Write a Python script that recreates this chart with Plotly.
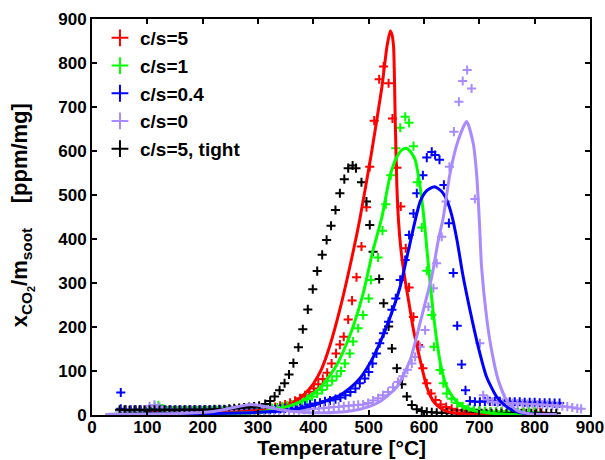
import plotly.graph_objects as go

# ---------------- data ----------------
# measured points
bk_T = [50,59,68,77,86,95,104,113,122,131,140,149,158,167,176,185,194,203,212,221,
        230,239,248,257,266,275,284,293,302,313,322,330,339,348,356,364,373,381,390,399,
        407,416,424,432,440,448,456,463,471,477,487,496,502,508,519,527,536,542,551,560,
        569,578,587,596,605,614,623,632,641,650,659,668,677,686,695,704,713,722,731,740,
        749,758,767,776,785,794,803,812,821,830,839]
bk_y = [12,12,11,12,12,11,12,12,11,12,12,11,12,12,12,12,12,12,12,13,
        13,13,14,15,16,17,18,19,21,25,32,42,56,72,92,118,154,195,240,286,
        327,364,398,430,466,504,536,561,567,561,529,485,432,371,309,254,201,151,106,70,
        42,23,13,9,7,6,5,5,5,4,4,4,4,4,4,4,4,4,4,4,
        4,4,4,4,4,4,4,4,4,4,4]

r_T = [70,79,88,97,106,115,124,133,142,151,160,169,178,187,196,205,214,223,232,241,
       250,259,268,277,286,295,304,313,322,331,340,349,358,367,376,385,393,401,409,417,
       425,433,441,448,455,463,470,478,487,496,502,510,519,527,536,543,551,558,567,573,
       581,590,598,605,613,621,630,640,650,660,670,680,690,700,710,720,730,740,750,760,
       770,780,790,800,810]
r_y = [9,9,9,9,9,9,9,9,9,9,9,9,9,9,9,9,9,9,9,10,
       10,10,10,11,11,12,13,14,16,18,21,24,28,32,38,45,52,60,70,82,
       96,117,140,160,178,217,260,313,383,472,564,669,763,792,754,674,562,474,379,290,
       223,159,106,72,49,34,24,18,14,11,10,9,8,8,7,7,7,7,6,6,
       6,6,6,6,6]

g_T = [50,59,68,77,86,95,104,113,120,128,137,146,155,164,173,182,191,200,209,218,
       227,236,245,254,263,272,281,290,299,308,317,326,335,344,353,362,371,380,389,398,
       407,416,425,434,442,450,457,466,472,481,490,500,504,517,525,531,540,549,557,566,
       573,581,588,596,605,614,618,629,635,641,650,660,670,680,690,700,710,720,730,740,
       750,760,770,780,790,800]
g_y = [10,10,10,10,10,11,14,20,22,14,10,10,10,10,10,10,10,10,10,10,
       10,10,10,10,10,11,11,12,12,13,14,15,17,19,21,24,27,31,36,42,
       49,57,67,78,88,100,117,140,167,197,227,265,307,358,419,479,545,606,653,678,
       664,611,529,426,328,227,155,102,72,49,37,27,20,15,12,10,9,8,8,8,
       8,8,7,7,7,7]

b_T = [52,52,61,70,79,88,97,106,115,124,133,142,151,160,169,178,187,196,205,214,
       223,232,241,250,259,268,277,286,295,304,313,322,331,340,349,358,367,376,385,394,
       403,412,421,430,440,449,458,467,476,484,493,500,507,514,520,527,536,542,549,557,
       566,573,581,587,598,605,614,620,628,636,645,653,660,668,675,683,692,701,710,719,
       728,737,746,755,764,773,782,791,800,809,818,827,836,845]
b_y = [51,14,12,12,12,12,12,12,12,12,12,12,12,12,12,12,12,12,12,12,
       12,12,12,12,12,12,12,12,12,12,12,12,13,14,15,16,17,19,21,24,
       26,28,31,33,36,40,45,52,60,72,83,98,117,140,163,186,212,239,265,307,
       352,409,458,504,545,585,598,591,580,523,436,323,203,115,56,32,30,30,31,31,
       31,31,30,30,30,30,29,29,29,28,28,28,27,27]

p_T = [50,59,68,77,86,95,104,113,122,131,140,149,158,167,176,185,194,203,212,221,
       230,239,248,257,266,275,284,293,302,311,320,329,338,347,356,365,374,383,392,401,
       410,419,428,437,446,455,464,473,481,490,499,508,517,526,535,544,553,562,570,578,
       584,593,602,608,617,623,632,640,646,654,663,670,678,686,692,701,707,715,724,733,
       742,751,760,769,778,787,796,805,814,823,832,841,850,859,868,877,884]
p_y = [10,10,10,10,10,12,20,23,18,12,10,10,10,10,10,10,10,10,10,10,
       10,10,10,10,10,10,10,10,10,10,10,10,10,10,10,11,11,12,13,14,
       15,16,17,18,19,20,21,22,23,24,27,33,38,45,52,63,75,88,103,117,
       132,155,193,246,288,345,405,485,564,644,712,759,784,742,491,163,45,35,30,28,
       28,27,27,26,26,25,25,24,24,23,22,21,20,19,17,15,14]

# fitted curves
rc_T = [25,100,200,250,300,340,355,370,385,400,415,430,448,466,484,505,524,533,539,542,
        545,548,551,554,558,563,568,572,581,593,605,615,625,640,660,700,760,840]
rc_y = [1,2,4,6,10,14,22,33,49,71,105,158,240,337,445,595,746,837,873,865,
        837,670,519,440,380,330,290,261,193,125,64,35,20,9,4,1,0,0]

gc_T = [25,100,200,250,300,352,376,400,415,430,445,460,472,490,508,524,539,551,558,567,
        576,584,592,599,605,611,617,623,630,641,659,683,713,760,840]
gc_y = [1,2,3,4,6,19,30,49,66,90,120,162,201,276,375,450,545,587,600,606,
        598,580,527,458,380,300,230,170,115,64,30,12,5,1,0]

bc_T = [25,100,200,300,350,400,430,448,466,484,502,520,539,557,572,593,605,619,632,641,
        650,660,670,683,698,713,731,749,767,790,840]
bc_y = [1,2,3,6,10,22,36,45,61,83,117,163,223,292,375,485,510,519,508,489,
        455,395,320,239,155,87,42,19,8,3,1]

pc_T = [25,150,220,260,286,310,340,380,420,460,490,520,551,575,593,602,614,626,635,647,
        662,677,689,695,700,704,713,722,734,749,767,790,840]
pc_y = [1,3,8,18,24,20,12,6,5,8,15,30,64,125,210,254,314,398,450,549,
        625,667,617,549,443,337,223,148,80,34,11,3,1]

names = ["c/s=5", "c/s=1", "c/s=0.4", "c/s=0", "c/s=5, tight"]
colors = ["#FF0000", "#00FF00", "#0000FF", "#A98BFF", "#000000"]

ticks = [0, 100, 200, 300, 400, 500, 600, 700, 800, 900]

x_title = "Temperature [°C]"
y_title = ("x<sub>CO<sub>2</sub></sub>/m<sub>soot</sub>"
           "\u00a0\u00a0\u00a0\u00a0[ppm/mg]")

# ---------------- figure ----------------
FONT = "Liberation Sans, Arial, sans-serif"
fig = go.Figure()

pts = [(r_T, r_y), (g_T, g_y), (b_T, b_y), (p_T, p_y), (bk_T, bk_y)]
for (tx, ty), nm, c in zip(pts, names, colors):
    fig.add_trace(go.Scatter(
        x=tx, y=ty, mode="markers", name=nm,
        marker=dict(symbol="cross-thin", size=6.5, color=c,
                    line=dict(width=2, color=c)),
    ))

curves = [(rc_T, rc_y), (gc_T, gc_y), (bc_T, bc_y), (pc_T, pc_y)]
for (tx, ty), c in zip(curves, colors[:4]):
    fig.add_trace(go.Scatter(
        x=tx, y=ty, mode="lines", showlegend=False,
        line=dict(color=c, width=3, shape="spline", smoothing=0.6),
        hoverinfo="skip",
    ))

axis_common = dict(
    showline=True, linewidth=2, linecolor="black", mirror="ticks",
    ticks="inside", ticklen=5, tickwidth=1.5, tickcolor="black",
    showgrid=False, zeroline=False, automargin=False,
    tickvals=ticks, ticktext=[str(t) for t in ticks],
    tickfont=dict(family=FONT, size=17, color="black", weight="bold"),
)

fig.update_layout(
    width=605, height=460,
    margin=dict(l=92, r=15, t=19, b=45),
    paper_bgcolor="white", plot_bgcolor="white",
    font=dict(family=FONT, color="black", weight="bold"),
    xaxis=dict(range=[0, 900], ticklabelstandoff=-4, **axis_common),
    yaxis=dict(range=[0, 900], **axis_common),
    legend=dict(x=0.016, y=1.0, xanchor="left", yanchor="top",
                bgcolor="rgba(0,0,0,0)", borderwidth=0,
                font=dict(family=FONT, size=19, weight="bold"),
                itemsizing="constant"),
    showlegend=True,
    annotations=[
        dict(text=x_title, xref="paper", yref="paper", x=0.5, y=-0.083,
             xanchor="center", yanchor="middle", showarrow=False,
             font=dict(family=FONT, size=21, weight="bold", color="black")),
        dict(text=y_title, xref="paper", yref="paper", x=-0.14, y=0.505,
             xanchor="center", yanchor="middle", showarrow=False, textangle=-90,
             font=dict(family=FONT, size=22, weight="bold", color="black")),
    ],
)

fig.write_html("out.html",
               config={"displayModeBar": False},
               post_script="document.body.style.margin='0';"
                           "document.body.style.overflow='hidden';")
